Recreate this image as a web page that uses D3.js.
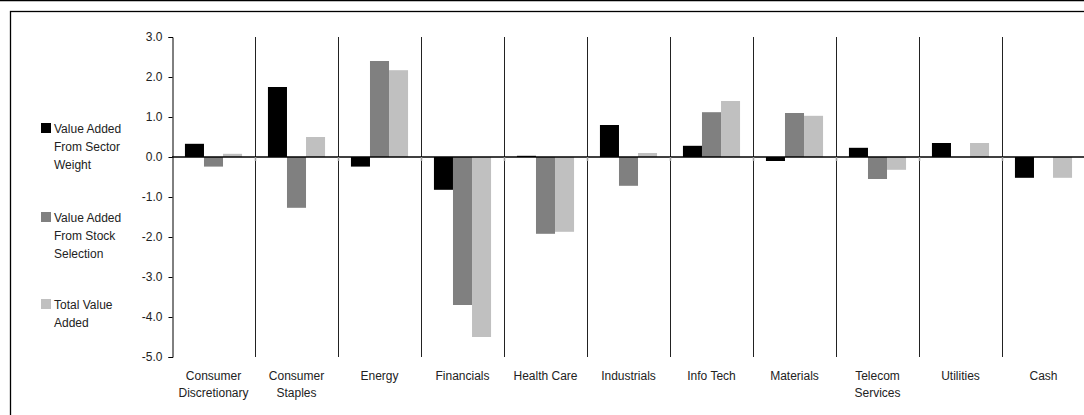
<!DOCTYPE html>
<html>
<head>
<meta charset="utf-8">
<script src="https://cdn.jsdelivr.net/npm/d3@7"></script>
<style>
  body { margin: 0; background: #fff; }
  svg text { font-family: "Liberation Sans", Arial, sans-serif; fill: #222; }
</style>
</head>
<body>
<script>
const sectors = ["Consumer Discretionary", "Consumer Staples", "Energy", "Financials", "Health Care",
  "Industrials", "Info Tech", "Materials", "Telecom Services", "Utilities", "Cash"]
const sectorLabels = [["Consumer", "Discretionary"], ["Consumer", "Staples"], ["Energy"], ["Financials"],
  ["Health Care"], ["Industrials"], ["Info Tech"], ["Materials"], ["Telecom", "Services"], ["Utilities"], ["Cash"]]
const sectorWeight = [0.33, 1.75, -0.24, -0.82, 0.03, 0.80, 0.28, -0.10, 0.23, 0.35, -0.52]
const stockSelection = [-0.24, -1.27, 2.40, -3.70, -1.92, -0.72, 1.12, 1.10, -0.55, 0, 0]
const totalValue = [0.08, 0.50, 2.17, -4.50, -1.87, 0.10, 1.40, 1.03, -0.32, 0.35, -0.52]
const yTicks = [3, 2, 1, 0, -1, -2, -3, -4, -5]
const seriesNames = [["Value Added", "From Sector", "Weight"], ["Value Added", "From Stock", "Selection"], ["Total Value", "Added"]]
const seriesColors = ["#000000", "#808080", "#c0c0c0"]

const W = 1084, H = 415
const svg = d3.select('body').append('svg')
  .attr('width', W).attr('height', H)

// frame
svg.append('line').attr('x1', 0).attr('x2', W).attr('y1', 0.5).attr('y2', 0.5)
  .attr('stroke', '#000').attr('stroke-width', 1.5)
svg.append('rect').attr('x', 10.5).attr('y', 11.5).attr('width', W + 20).attr('height', H)
  .attr('fill', 'none').attr('stroke', '#000').attr('stroke-width', 1.3)

const left = 172, step = 83
const x0 = d3.scaleBand().domain(sectors).range([left, left + step * sectors.length]).padding(0)
const x1 = d3.scaleBand().domain([0, 1, 2]).range([0, x0.bandwidth()]).paddingInner(0).paddingOuter(0.68)
const y = d3.scaleLinear().domain([-5, 3]).range([357, 37])

const rows = sectors.map((s, i) => ({ sector: s, vals: [sectorWeight[i], stockSelection[i], totalValue[i]] }))

// category separators
svg.append('g').selectAll('line')
  .data(sectors.slice(1)).enter()
  .append('line')
  .attr('x1', d => Math.round(x0(d)) + 0.5).attr('x2', d => Math.round(x0(d)) + 0.5)
  .attr('y1', y(3)).attr('y2', y(-5))
  .attr('stroke', '#222').attr('stroke-width', 1)

// bars
const groups = svg.append('g').selectAll('g')
  .data(rows).enter()
  .append('g')
  .attr('transform', d => `translate(${x0(d.sector)},0)`)
groups.selectAll('rect')
  .data(d => d.vals.map((v, k) => ({ v, k })))
  .enter().append('rect')
  .attr('x', d => x1(d.k))
  .attr('width', x1.bandwidth())
  .attr('y', d => y(Math.max(0, d.v)))
  .attr('height', d => Math.abs(y(d.v) - y(0)))
  .attr('fill', d => seriesColors[d.k])

// zero axis with ticks at boundaries
svg.append('line').attr('x1', left).attr('x2', W).attr('y1', y(0)).attr('y2', y(0))
  .attr('stroke', '#000').attr('stroke-width', 1.3)
svg.append('g').selectAll('line')
  .data(sectors.slice(1)).enter()
  .append('line')
  .attr('x1', d => Math.round(x0(d)) + 0.5).attr('x2', d => Math.round(x0(d)) + 0.5)
  .attr('y1', y(0)).attr('y2', y(0) + 4)
  .attr('stroke', '#999').attr('stroke-width', 1.5)

// y axis
const yAxis = d3.axisLeft(y).tickValues(yTicks).tickSize(4).tickPadding(6)
  .tickFormat(d => d.toFixed(1))
const ya = svg.append('g').attr('transform', `translate(${left + 0.5},0)`).call(yAxis)
ya.select('.domain').attr('stroke', '#000')
ya.selectAll('.tick line').attr('stroke', '#000')
ya.selectAll('.tick text').attr('font-size', 12).attr('font-family', null).style('fill', '#222')

// category labels
const lab = svg.append('g').selectAll('text')
  .data(sectors).enter()
  .append('text')
  .attr('x', d => x0(d) + x0.bandwidth() / 2)
  .attr('y', 380)
  .attr('text-anchor', 'middle')
  .attr('font-size', 12)
lab.selectAll('tspan')
  .data((d, i) => sectorLabels[i]).enter()
  .append('tspan')
  .attr('x', function () { return d3.select(this.parentNode).attr('x') })
  .attr('dy', (d, i) => i ? 17 : 0)
  .text(d => d)

// legend
const legendTop = [128, 217, 304]
const leg = svg.append('g').selectAll('g')
  .data(seriesNames).enter()
  .append('g')
  .attr('transform', (d, i) => `translate(0,${legendTop[i]})`)
leg.append('rect')
  .attr('x', 41).attr('y', -5).attr('width', 10).attr('height', 10)
  .attr('fill', (d, i) => seriesColors[i])
leg.append('text')
  .attr('x', 54).attr('y', 4.5)
  .attr('font-size', 12)
  .selectAll('tspan')
  .data(d => d).enter()
  .append('tspan')
  .attr('x', 54)
  .attr('dy', (d, i) => i ? 18 : 0)
  .text(d => d)
</script>
</body>
</html>
